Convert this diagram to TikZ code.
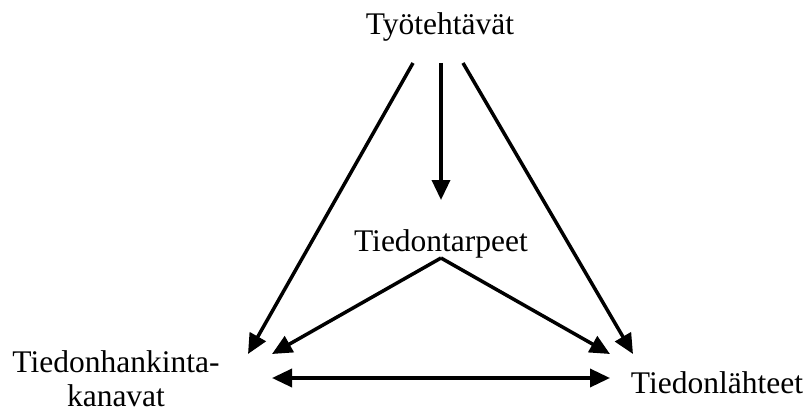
\documentclass[tikz,border=0pt]{standalone}
\usepackage{fontspec}
\setmainfont{Liberation Serif}
\usetikzlibrary{arrows.meta}
\begin{document}
\begin{tikzpicture}[x=1pt,y=-1pt,
  lbl/.style={font=\fontsize{31.5}{34}\selectfont, inner sep=0pt, anchor=base},
  conn/.style={line width=3.5pt, -{Triangle[length=20pt,width=18pt]}},
  biconn/.style={line width=3.5pt, {Triangle[length=20pt,width=18pt]}-{Triangle[length=20pt,width=18pt]}}]
\useasboundingbox (0,0) rectangle (806,412);
\node[lbl] (tyo) at (440,35) {Työtehtävät};
\node[lbl] (tarve) at (441,251) {Tiedontarpeet};
\node[lbl, align=center] (kanava) at (116,406) {Tiedonhankinta-\\kanavat};
\node[lbl] (lahde) at (717,393) {Tiedonlähteet};
\coordinate (tL) at (413,63);
\coordinate (tM) at (441,63);
\coordinate (tR) at (463,63);
\coordinate (apex) at (441,258);
\coordinate (kA) at (248,354);
\coordinate (kB) at (272,354);
\coordinate (lA) at (610,354);
\coordinate (lB) at (633,354);
\coordinate (hL) at (272,378);
\coordinate (hR) at (610,378);
\coordinate (mid) at (441,200);
\draw[conn] (tL) -- (kA);
\draw[conn] (tM) -- (mid);
\draw[conn] (tR) -- (lB);
\draw[conn] (apex) -- (kB);
\draw[conn] (apex) -- (lA);
\draw[biconn] (hL) -- (hR);
\end{tikzpicture}
\end{document}
